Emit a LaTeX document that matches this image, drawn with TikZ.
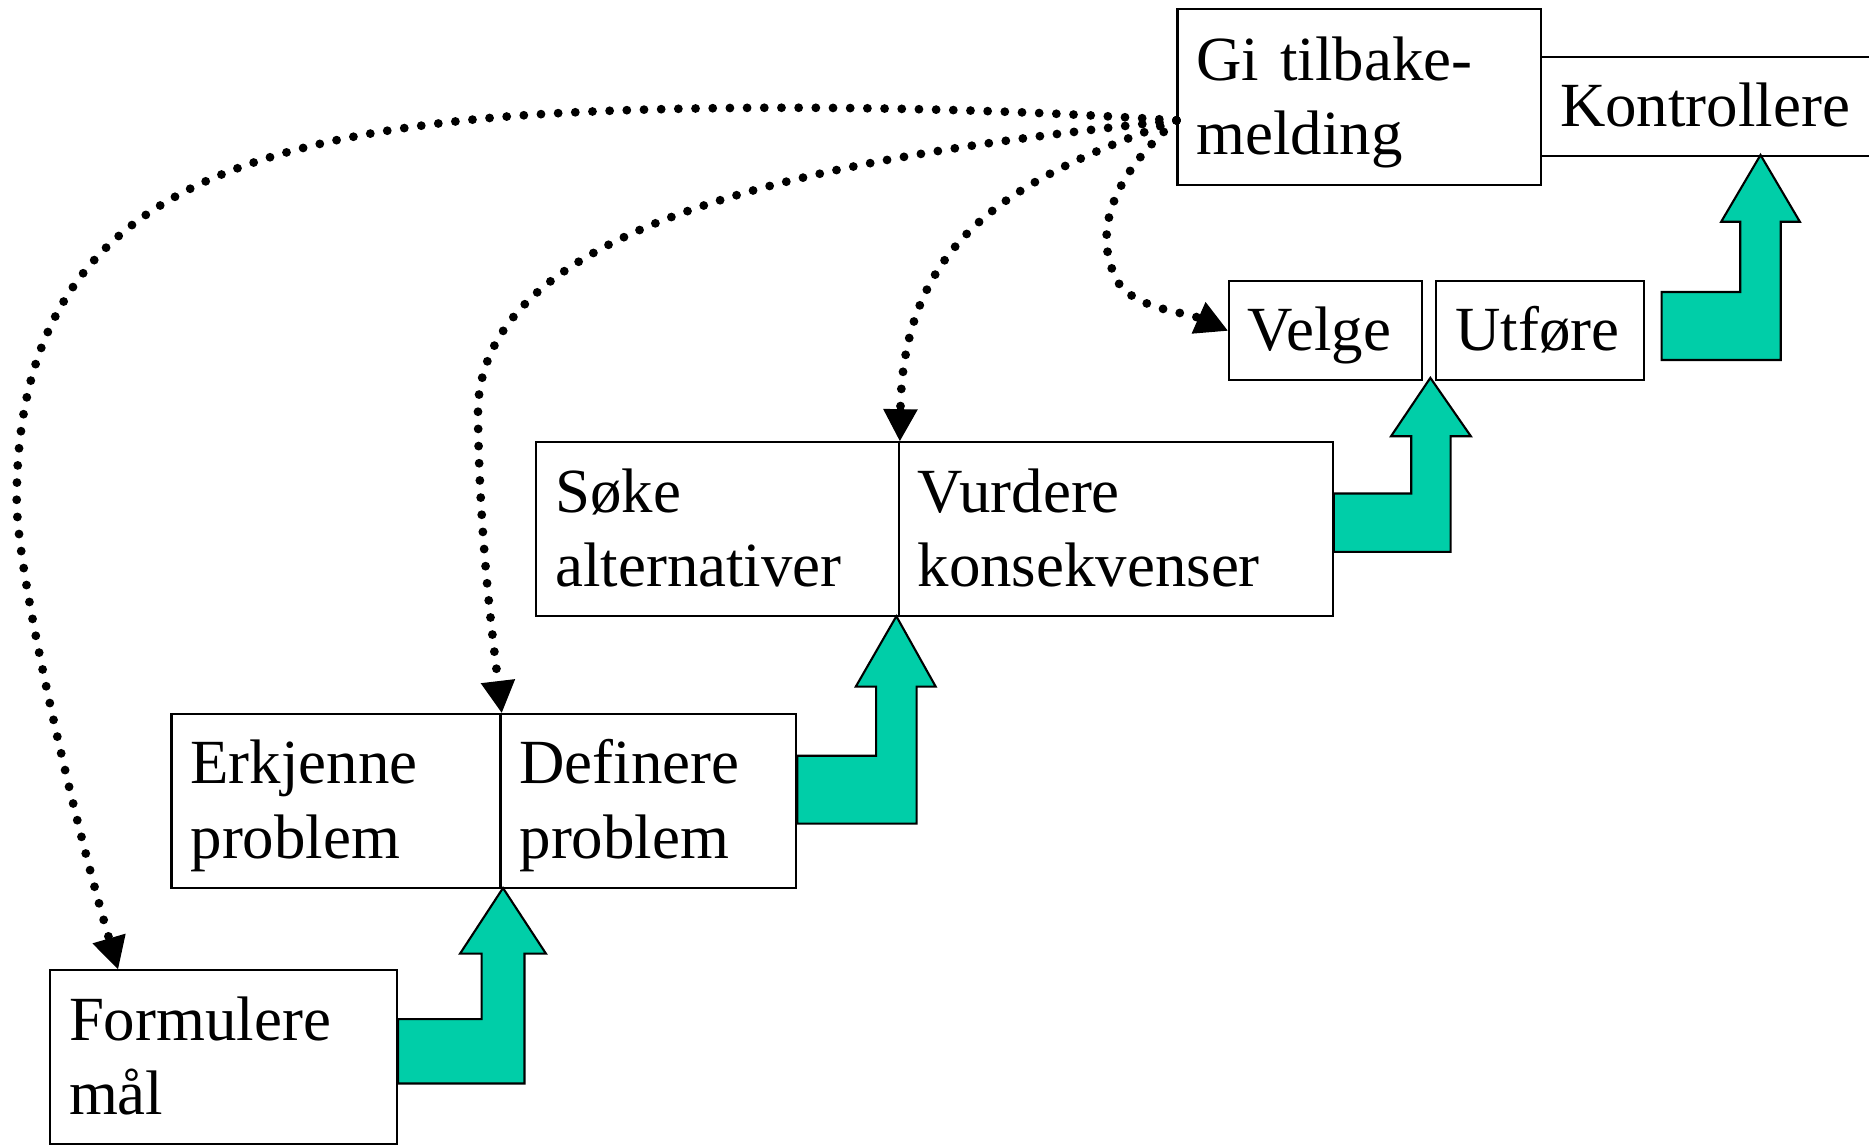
\documentclass[tikz,border=0pt]{standalone}
\usepackage{fontspec}
\setmainfont{Liberation Serif}
\usetikzlibrary{arrows.meta,calc}
\definecolor{tealg}{RGB}{0,206,168}
\newcommand\stt{\rule[-4.05pt]{0pt}{17.7pt}}
\begin{document}
\begin{tikzpicture}[x=0.01cm, y=-0.01cm,
  box/.style={draw, line width=0.5pt, anchor=north west, inner xsep=0.16cm, inner ysep=0pt,
    align=left, font=\fontsize{15}{17.7}\selectfont},
  garrow/.style={draw, line width=0.5pt, fill=tealg, line join=miter},
  fb/.style={line width=2.1pt, dash pattern=on 0pt off 4.1pt, line cap=round,
    -{Triangle[length=7.6pt,width=8.2pt,line width=0.3pt]}}]
\useasboundingbox (0,0) rectangle (1568,960);
\clip (0,0) rectangle (1568,960);

% boxes
\node[box, text width=2.73cm, minimum height=1.47cm] (gi) at (987,7) {\stt Gi tilbake-\\\stt melding};
\node[box, text width=2.68cm, minimum height=0.83cm] (kon) at (1292,47) {\stt Kontrollere};
\node[box, text width=1.30cm, minimum height=0.83cm] (vel) at (1030,235) {\stt Velge};
\node[box, text width=1.42cm, minimum height=0.83cm] (utf) at (1204,235) {\stt Utføre};
\node[box, text width=2.72cm, minimum height=1.46cm] (sok) at (449,370) {\stt Søke\\\stt alternativer};
\node[box, text width=3.32cm, minimum height=1.46cm] (vur) at (753,370) {\stt Vurdere\\\stt konsekvenser};
\node[box, text width=2.44cm, minimum height=1.46cm] (erk) at (143,598) {\stt Erkjenne\\\stt problem};
\node[box, text width=2.16cm, minimum height=1.46cm] (def) at (419,598) {\stt Definere\\\stt problem};
\node[box, text width=2.59cm, minimum height=1.46cm] (frm) at (41,813) {\stt Formulere\\\stt mål};

% green bent arrows
\draw[garrow] (frm.east |- 0,855) -| (404,800) -- (386,800) -- (422,745) -- (458,800) -- (440,800) |- (frm.east |- 0,909) -- cycle;
\draw[garrow] (def.east |- 0,634) -| (735,576) -- (718,576) -- (752,517) -- (785,576) -- (769,576) |- (def.east |- 0,691) -- cycle;
\draw[garrow] (vur.east |- 0,414) -| (1184,366) -- (1167,366) -- (1200,317) -- (1234,366) -- (1217,366) |- (vur.east |- 0,463) -- cycle;
\draw[garrow] (1394,245) -| (1460,186) -- (1444,186) -- (1477,130) -- (1510,186) -- (1494,186) |- (1394,302) -- cycle;

% dotted feedback arrows
\coordinate (src) at (gi.west |- 0,101);
\draw[fb] (src) .. controls (760,86) and (520,88) .. (400,100)
  .. controls (150,125) and (14,200) .. (14,420)
  .. controls (14,480) and (60,680) .. (frm.north -| 99,0);
\draw[fb] (src) .. controls (760,125) and (400,170) .. (401,347)
  .. controls (402,450) and (414,540) .. (erk.north east);
\draw[fb] (src) .. controls (850,150) and (758,200) .. (sok.north east);
\draw[fb] (src) .. controls (930,150) and (915,200) .. (940,240)
  .. controls (958,260) and (995,262) .. (vel.west);
\end{tikzpicture}
\end{document}
